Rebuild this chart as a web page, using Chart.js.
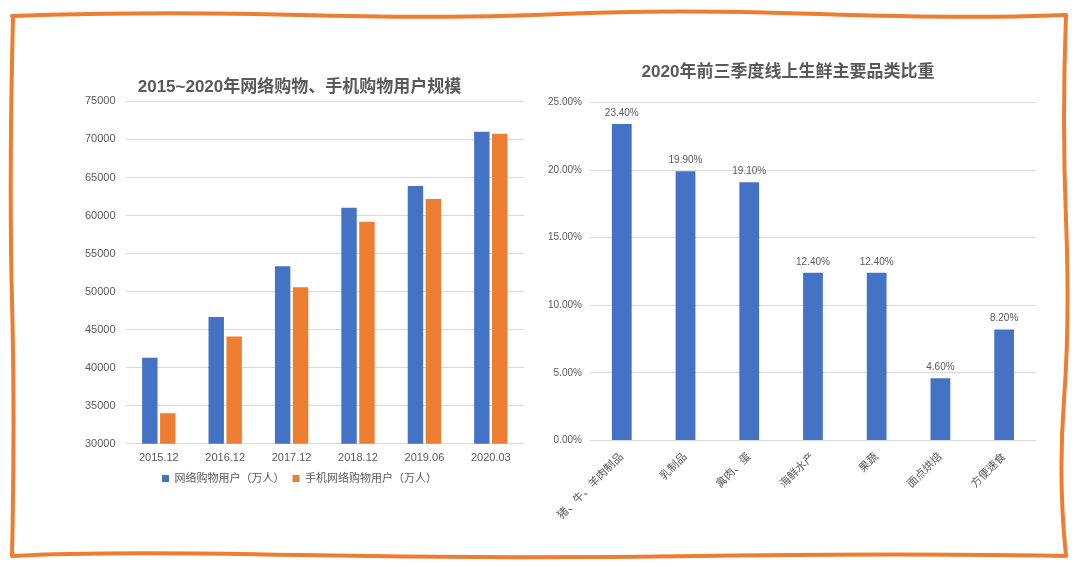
<!DOCTYPE html>
<html>
<head>
<meta charset="utf-8">
<script src="https://cdn.jsdelivr.net/npm/chart.js@4/dist/chart.umd.min.js"></script>
<style>
  html, body { margin: 0; padding: 0; background: #fff; }
  body { width: 1080px; height: 567px; position: relative; overflow: hidden; }
  #frame { position: absolute; left: 0; top: 0; }
  .box { position: absolute; }
  #left { left: 70px; top: 67px; width: 480px; height: 427px; }
  #right { left: 540px; top: 52px; width: 512px; height: 472px; }
</style>
</head>
<body>
<svg id="frame" width="1080" height="567">
  <path d="M12 16 Q 150 11 300 15 T 560 14 T 820 14 T 1066 15
           Q 1062 120 1066 220 T 1064 400 T 1066 556
           Q 900 553 700 556 T 300 555 T 12 556
           Q 15 420 12 300 T 13 16 Z"
        fill="none" stroke="#ED7D31" stroke-width="4" stroke-linejoin="round"/>
</svg>
<div class="box" id="left"><canvas id="c1"></canvas></div>
<div class="box" id="right"><canvas id="c2"></canvas></div>
<script>
// left chart data
const periods = ['2015.12', '2016.12', '2017.12', '2018.12', '2019.06', '2020.03'];
const netUsers = [41325, 46670, 53332, 61011, 63882, 71027];
const mobileUsers = [34028, 44093, 50563, 59191, 62181, 70749];

// right chart data
const categories = ['猪、牛、羊肉制品', '乳制品', '禽肉、蛋', '海鲜水产', '果蔬', '面点烘焙', '方便速食'];
const shares = [23.4, 19.9, 19.1, 12.4, 12.4, 4.6, 8.2];

const FONT = '"Liberation Sans", "Noto Sans CJK SC", sans-serif';
const GREY = '#595959';
const BLUE = '#4472C4';
const ORANGE = '#ED7D31';

Chart.defaults.font.family = FONT;
Chart.defaults.color = GREY;
Chart.defaults.animation = false;
Chart.defaults.responsive = true;
Chart.defaults.maintainAspectRatio = false;

// value labels above bars
const barLabels = {
    id: 'barLabels',
    afterDatasetsDraw(chart) {
        const ctx = chart.ctx;
        const meta = chart.getDatasetMeta(0);
        ctx.save();
        ctx.font = '10px ' + FONT;
        ctx.fillStyle = GREY;
        ctx.textAlign = 'center';
        ctx.textBaseline = 'bottom';
        meta.data.forEach((bar, i) => {
            ctx.fillText(shares[i].toFixed(2) + '%', bar.x, bar.y - 6);
        });
        ctx.restore();
    }
};

new Chart(document.getElementById('c1'), {
    type: 'bar',
    data: {
        labels: periods,
        datasets: [
            { label: '网络购物用户（万人）', data: netUsers, backgroundColor: BLUE,
              categoryPercentage: 0.54, barPercentage: 0.86 },
            { label: '手机网络购物用户（万人）', data: mobileUsers, backgroundColor: ORANGE,
              categoryPercentage: 0.54, barPercentage: 0.86 }
        ]
    },
    options: {
        layout: { padding: { left: 5, right: 26, top: 0, bottom: 0 } },
        plugins: {
            title: {
                display: true,
                text: '2015~2020年网络购物、手机购物用户规模',
                color: GREY,
                font: { size: 17, weight: 'bold' },
                padding: { top: 10, bottom: 4 }
            },
            legend: {
                position: 'bottom',
                labels: { boxWidth: 7, boxHeight: 7, font: { size: 11 }, padding: 8, color: GREY }
            },
            tooltip: { enabled: false }
        },
        scales: {
            x: {
                grid: { display: false },
                border: { display: false },
                ticks: { font: { size: 11 }, color: GREY, padding: 0 }
            },
            y: {
                min: 30000,
                max: 75000,
                ticks: { stepSize: 5000, font: { size: 11 }, color: GREY, padding: 10,
                         callback: v => String(v) },
                grid: { color: '#d9d9d9', drawTicks: false },
                border: { display: false }
            }
        }
    }
});

new Chart(document.getElementById('c2'), {
    type: 'bar',
    data: {
        labels: categories,
        datasets: [
            { label: '比重', data: shares, backgroundColor: BLUE,
              categoryPercentage: 1, barPercentage: 0.31 }
        ]
    },
    options: {
        layout: { padding: { left: 0, right: 16, top: 0, bottom: 0 } },
        plugins: {
            title: {
                display: true,
                text: '2020年前三季度线上生鲜主要品类比重',
                color: GREY,
                font: { size: 17, weight: 'bold' },
                padding: { top: 10, bottom: 20 }
            },
            legend: { display: false },
            tooltip: { enabled: false }
        },
        scales: {
            x: {
                grid: { display: false },
                border: { display: false },
                ticks: { font: { size: 11 }, color: GREY, minRotation: 45, maxRotation: 45, padding: 2 }
            },
            y: {
                min: 0,
                max: 25,
                ticks: {
                    stepSize: 5, font: { size: 10 }, color: GREY, padding: 8,
                    callback: v => v.toFixed(2) + '%'
                },
                grid: { color: '#d9d9d9', drawTicks: false },
                border: { display: false }
            }
        }
    },
    plugins: [barLabels]
});
</script>
</body>
</html>
